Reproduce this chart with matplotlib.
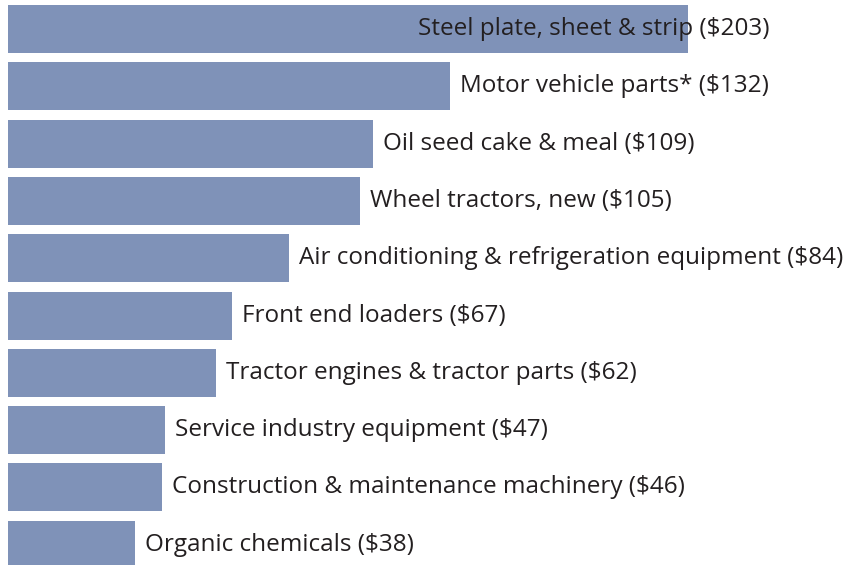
import matplotlib
matplotlib.use("Agg")
import matplotlib.pyplot as plt

categories = [
    "Steel plate, sheet & strip",
    "Motor vehicle parts*",
    "Oil seed cake & meal",
    "Wheel tractors, new",
    "Air conditioning & refrigeration equipment",
    "Front end loaders",
    "Tractor engines & tractor parts",
    "Service industry equipment",
    "Construction & maintenance machinery",
    "Organic chemicals",
]
values = [203, 132, 109, 105, 84, 67, 62, 47, 46, 38]

W, H = 846, 565
fig = plt.figure(figsize=(W / 100, H / 100), dpi=100)
ax = fig.add_axes([0, 0, 1, 1])

px_per_unit = 680 / 203
left_px = 8
pitch = 57.3
first_center = 29
ax.set_xlim(-left_px / px_per_unit, (W - left_px) / px_per_unit)
ax.set_ylim((H - first_center) / pitch, -first_center / pitch)

ypos = list(range(len(categories)))
ax.barh(ypos, values, height=48 / pitch, color="#7f92b8", edgecolor="none")

font = dict(family=["Open Sans", "DejaVu Sans"], fontsize=17.5, color="#231f20")
max_x = (W - left_px) / px_per_unit
for i, (c, v) in enumerate(zip(categories, values)):
    label = f"{c} (${v})"
    if i == 0:
        ax.text(v + 82 / px_per_unit, i, label, ha="right", va="center", **font)
    else:
        ax.text(v + 10 / px_per_unit, i, label, ha="left", va="center", **font)

ax.axis("off")
fig.savefig("out.png", dpi=100)
